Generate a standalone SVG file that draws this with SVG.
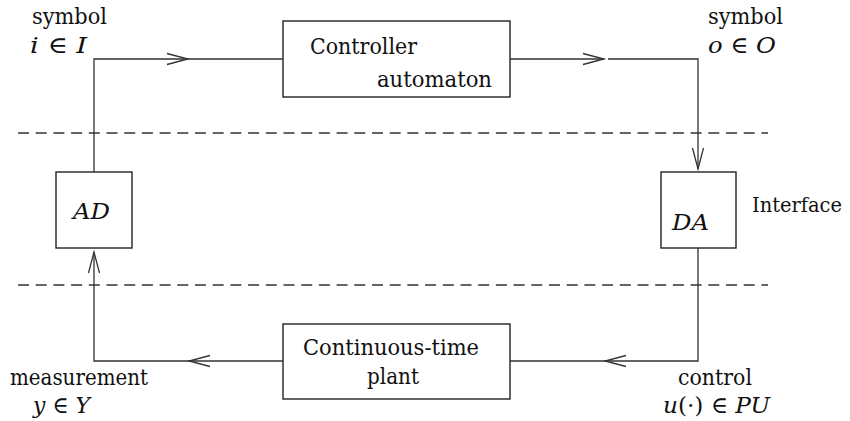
<svg xmlns="http://www.w3.org/2000/svg" width="850" height="421" viewBox="0 0 850 421" font-family="DejaVu Serif, serif">
<style>
.box{fill:#fff;stroke:#222;stroke-width:1.4}
.ln{fill:none;stroke:#333;stroke-width:1.3}
.dash{fill:none;stroke:#333;stroke-width:1.3;stroke-dasharray:11 6.7}
text{font-family:"DejaVu Serif","Liberation Serif",serif;font-size:23px;fill:#111}
.it{font-style:italic}
</style>
<defs>
<marker id="ah" markerUnits="userSpaceOnUse" markerWidth="30" markerHeight="20" viewBox="-25 -10 30 20" refX="0" refY="0" orient="auto" overflow="visible">
<path d="M-21,-5.5 L0,0 L-21,5.5" fill="none" stroke="#333" stroke-width="1.3"/>
</marker>
</defs>
<rect width="850" height="421" fill="#fff"/>
<g id="interface-lines">
<line class="dash" x1="18" y1="133" x2="768" y2="133"/>
<line class="dash" x1="18" y1="285" x2="768" y2="285"/>
</g>
<g id="connectors">
<path class="ln" d="M94,172 V59 H188" marker-end="url(#ah)"/>
<path class="ln" d="M188,59 H283"/>
<path class="ln" d="M510,59 H604" marker-end="url(#ah)"/>
<path class="ln" d="M608,59 H698 V169" marker-end="url(#ah)"/>
<path class="ln" d="M698,248 V361 H605" marker-end="url(#ah)"/>
<path class="ln" d="M605,361 H510"/>
<path class="ln" d="M283,361 H189" marker-end="url(#ah)"/>
<path class="ln" d="M189,361 H94 V252" marker-end="url(#ah)"/>
</g>
<g id="controller">
<rect class="box" x="283" y="21" width="227" height="76"/>
<text x="310" y="54" textLength="107" lengthAdjust="spacingAndGlyphs">Controller</text>
<text x="377" y="87" textLength="115" lengthAdjust="spacingAndGlyphs">automaton</text>
</g>
<g id="plant">
<rect class="box" x="283" y="324" width="227" height="75"/>
<text x="303" y="355" textLength="176" lengthAdjust="spacingAndGlyphs">Continuous-time</text>
<text x="367" y="384" textLength="52" lengthAdjust="spacingAndGlyphs">plant</text>
</g>
<g id="AD">
<rect class="box" x="56" y="172" width="76" height="76"/>
<text x="73" y="219" class="it" textLength="37" lengthAdjust="spacingAndGlyphs">AD</text>
</g>
<g id="DA">
<rect class="box" x="661" y="172" width="75" height="76"/>
<text x="672" y="230" class="it" textLength="37" lengthAdjust="spacingAndGlyphs">DA</text>
</g>
<g id="labels">
<text x="32" y="24" textLength="75" lengthAdjust="spacingAndGlyphs">symbol</text>
<text x="30" y="53" textLength="57" lengthAdjust="spacingAndGlyphs"><tspan class="it">i</tspan> ∈ <tspan class="it">I</tspan></text>
<text x="708" y="24" textLength="75" lengthAdjust="spacingAndGlyphs">symbol</text>
<text x="708" y="53" textLength="68" lengthAdjust="spacingAndGlyphs"><tspan class="it">o</tspan> ∈ <tspan class="it">O</tspan></text>
<text x="752" y="212" style="font-size:19.5px" textLength="90" lengthAdjust="spacingAndGlyphs">Interface</text>
<text x="10" y="385" textLength="138" lengthAdjust="spacingAndGlyphs">measurement</text>
<text x="33" y="413" textLength="57" lengthAdjust="spacingAndGlyphs"><tspan class="it">y</tspan> ∈ <tspan class="it">Y</tspan></text>
<text x="678" y="385" textLength="74" lengthAdjust="spacingAndGlyphs">control</text>
<text x="663" y="413" textLength="107" lengthAdjust="spacingAndGlyphs"><tspan class="it">u</tspan>(·) ∈ <tspan class="it">PU</tspan></text>
</g>
</svg>
